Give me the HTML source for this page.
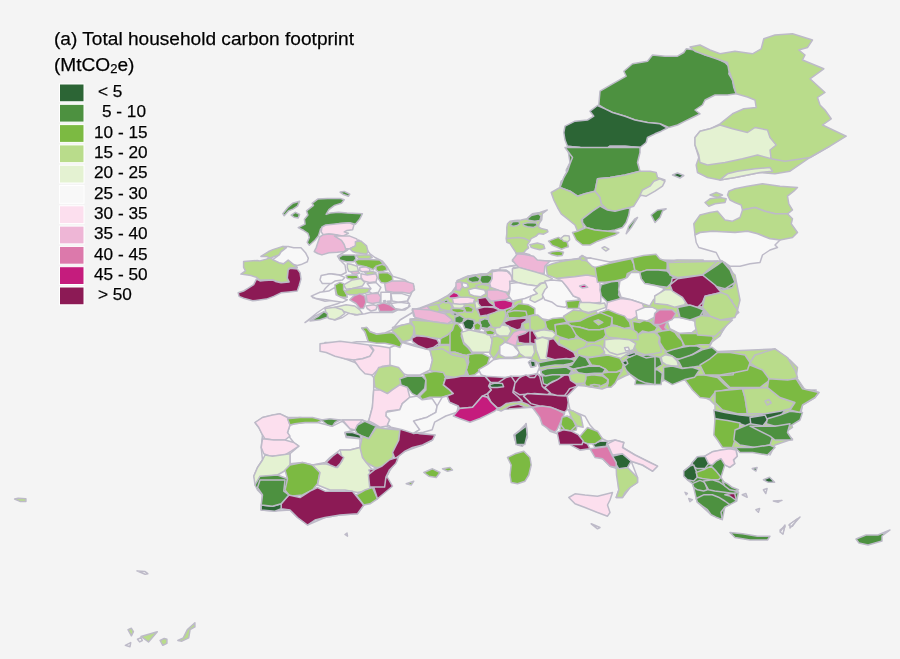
<!DOCTYPE html>
<html><head><meta charset="utf-8"><style>
html,body{margin:0;padding:0;}
body{width:900px;height:659px;background:#f4f4f4;position:relative;overflow:hidden;font-family:"Liberation Sans",sans-serif;color:#111;}
svg{position:absolute;left:0;top:0;}
.t,.lt{will-change:transform;}
.t{position:absolute;left:54px;font-size:19.1px;line-height:22px;white-space:nowrap;text-shadow:0 0 1.5px #fff,0 0 1.5px #fff;-webkit-text-stroke:0.25px #000;color:#000;}
.lt{position:absolute;font-size:17.2px;white-space:nowrap;line-height:19px;text-shadow:0 0 1.5px #fff,0 0 1.5px #fff;-webkit-text-stroke:0.25px #000;color:#000;}
</style></head><body>
<svg width="900" height="659" viewBox="0 0 900 659">
<g stroke="#bdbac8" stroke-width="1.5" stroke-linejoin="round">
<polygon points="598.8,105.0 600.0,91.2 612.5,83.8 626.2,76.2 623.8,71.2 632.5,63.8 647.5,61.2 652.5,55.0 665.0,56.2 677.5,56.2 683.8,52.5 686.2,48.8 695.0,50.0 705.0,55.0 715.0,57.5 725.0,62.5 730.0,67.5 728.8,73.8 732.5,80.0 733.8,87.5 736.2,93.8 727.5,95.0 715.0,95.0 705.0,100.0 702.5,105.0 695.0,110.0 700.0,113.8 692.5,117.5 685.0,121.2 677.5,125.0 668.8,127.5 660.0,123.8 647.5,122.5 635.0,120.0 625.0,116.2 612.5,112.5 605.0,108.8" fill="#4d9140"/>
<polygon points="597.5,105.5 590.0,111.2 593.8,116.2 587.5,120.0 575.0,121.2 565.0,126.2 563.8,132.5 565.0,140.0 567.5,146.2 580.0,147.5 583.8,153.8 595.0,152.5 605.0,150.0 610.0,146.2 625.0,146.2 640.0,147.5 646.2,142.5 647.5,137.5 655.0,133.8 661.2,131.2 667.5,128.0 660.0,123.8 647.5,122.5 635.0,120.0 625.0,116.2 612.5,112.5 605.0,108.8" fill="#2c6535"/>
<polygon points="567.5,146.2 568.8,155.0 570.0,162.5 566.2,170.0 567.5,177.5 561.2,181.2 560.0,186.2 567.5,170.0 638.8,170.0 637.5,171.2 638.8,167.5 636.2,160.0 637.5,152.5 640.0,147.5 625.0,146.2 610.0,146.2 605.0,150.0 595.0,152.5 583.8,153.8 580.0,147.5" fill="#4d9140"/>
<polygon points="690.0,47.0 700.0,45.0 710.0,50.0 720.0,53.8 735.0,51.2 752.5,53.8 761.2,48.8 763.8,38.8 775.0,35.0 792.5,33.8 812.5,40.0 807.5,47.5 798.8,50.0 805.0,55.0 802.5,60.0 823.8,68.8 810.0,78.8 825.0,92.5 817.5,97.5 820.0,105.0 825.0,110.0 831.2,118.8 822.5,125.0 846.2,136.2 830.0,146.2 810.0,157.5 790.0,171.2 775.0,173.8 760.0,172.5 747.5,175.0 735.0,177.5 720.0,180.0 707.5,177.5 697.5,172.5 696.2,165.0 698.8,157.5 695.0,145.0 695.0,137.5 700.0,131.2 710.0,128.8 720.0,123.8 732.5,113.8 743.8,108.8 756.2,107.5 755.0,100.0 747.5,97.0 736.2,93.8 732.5,80.0 728.8,70.0 727.5,62.5 712.5,57.5 695.0,51.2" fill="#b9dc8b"/>
<polygon points="695.0,137.5 700.0,131.2 710.0,128.8 720.0,125.0 732.5,128.8 747.5,132.5 755.0,127.5 767.5,130.0 770.0,137.5 776.2,145.0 770.0,150.0 771.2,158.8 757.5,155.0 742.5,158.8 725.0,162.5 707.5,165.0 700.0,162.5 698.8,155.0 695.0,145.0" fill="#e4f2d2"/>
<polygon points="720.0,180.0 735.0,177.5 747.5,175.0 760.0,172.5 772.5,171.2 770.0,167.5 755.0,168.8 737.5,171.2 727.5,173.8 721.2,178.8" fill="#e4f2d2"/>
<polyline points="771.2,158.8 785.0,161.2 810.0,157.5 830.0,146.2" fill="none"/>
<polygon points="565.0,147.5 572.5,157.5 570.0,163.8 567.5,171.2 563.8,177.5 560.0,187.5 570.0,191.2 577.5,196.2 585.0,193.8 595.0,191.2 597.5,178.8 610.0,177.5 625.0,175.0 640.0,171.2 637.5,162.5 640.0,152.5 640.0,147.5" fill="#4d9140"/>
<polygon points="597.5,178.8 595.0,191.2 600.0,197.5 601.2,203.8 607.5,210.0 615.0,211.2 625.0,208.8 633.8,206.2 640.0,196.2 650.0,191.2 660.0,185.0 665.0,180.0 657.5,177.5 656.2,172.5 650.0,171.2 640.0,171.2 625.0,175.0 610.0,177.5" fill="#b9dc8b"/>
<polygon points="640.0,195.0 646.2,196.2 655.0,191.2 662.5,186.2 665.0,181.2 660.0,178.8 653.8,181.2 650.0,186.2 642.5,190.0" fill="#e4f2d2"/>
<polygon points="551.2,192.5 553.8,200.0 557.5,207.5 561.2,213.8 567.5,218.8 575.0,225.0 577.5,231.2 583.8,227.5 581.2,220.0 592.5,211.2 600.0,206.2 607.5,210.0 601.2,203.8 600.0,197.5 595.0,191.2 585.0,193.8 577.5,196.2 570.0,191.2 560.0,187.5" fill="#b9dc8b"/>
<polygon points="582.5,218.8 592.5,211.2 600.0,206.2 607.5,210.0 615.0,211.2 625.0,208.8 630.0,207.5 628.8,215.0 626.2,222.5 622.5,227.5 615.0,230.0 607.5,231.2 595.0,230.0 586.2,227.5 582.5,222.5" fill="#4d9140"/>
<polygon points="572.5,232.5 576.2,240.0 582.5,245.0 590.0,245.0 597.5,241.2 607.5,237.5 615.0,235.0 618.8,232.5 607.5,231.2 595.0,230.0 586.2,227.5 577.5,231.2" fill="#7cba42"/>
<polygon points="626.2,233.8 631.2,227.5 637.5,217.5 635.0,218.8 628.8,226.2" fill="#4d9140"/>
<polygon points="651.2,215.0 655.0,222.5 660.0,217.5 662.5,211.2 666.2,208.8 657.5,210.0" fill="#4d9140"/>
<polygon points="672.5,175.0 677.5,173.0 683.8,175.5 680.0,178.0" fill="#2c6535"/>
<polygon points="506.8,227.4 507.5,223.7 510.0,221.2 514.9,220.6 521.2,219.9 526.8,218.7 532.4,213.7 539.8,212.5 547.3,210.0 542.3,213.7 541.7,219.9 539.2,223.7 538.6,226.8 541.1,228.6 547.3,229.9 547.9,231.8 543.6,234.2 538.6,233.6 536.1,236.1 531.1,238.6 529.9,241.1 527.4,244.8 528.6,247.9 526.1,249.8 523.6,252.9 516.2,253.5 514.9,251.0 512.4,247.3 510.0,243.6 506.8,242.3 506.2,238.6 506.8,233.6" fill="#b9dc8b"/>
<polygon points="510.0,225.5 512.4,221.8 518.7,221.2 519.9,223.7 517.4,225.5 513.7,226.2" fill="#4d9140"/>
<polygon points="523.0,223.7 528.6,222.4 536.1,223.0 537.3,225.5 533.6,227.4 527.4,226.8 523.6,225.5" fill="#4d9140"/>
<polygon points="526.8,219.3 531.1,215.6 538.6,213.7 541.1,216.2 539.8,220.6 534.8,221.2 529.9,220.6" fill="#4d9140"/>
<polyline points="506.8,238.6 512.4,238.0 518.7,237.4 524.9,238.6 529.9,241.1" fill="none"/>
<polygon points="529.9,244.8 537.3,243.0 543.6,244.8 544.8,248.6 539.8,249.8 534.8,248.6 531.1,247.3" fill="#b9dc8b"/>
<polygon points="548.5,241.1 554.8,238.6 558.5,237.4 561.0,239.2 563.5,236.1 567.8,236.7 567.2,242.3 568.4,246.7 564.7,247.9 561.6,249.2 557.2,247.3 552.3,245.4" fill="#7cba42"/>
<polygon points="561.0,238.0 564.7,235.5 569.1,236.1 569.7,239.8 567.8,241.7 563.5,241.1" fill="#e4f2d2"/>
<polygon points="548.5,252.9 552.3,251.7 558.5,251.0 563.5,252.3 562.2,255.4 557.2,256.0 552.3,254.8" fill="#7cba42"/>
<polygon points="602.0,247.9 604.5,246.7 608.9,249.2 605.8,251.0" fill="#e4f2d2"/>
<polygon points="512.4,261.0 517.4,257.3 516.2,253.5 523.6,252.9 529.9,254.8 532.4,258.5 537.3,260.4 544.8,261.0 550.4,261.0 547.3,264.7 546.7,269.7 542.3,273.4 536.1,272.2 531.1,269.7 528.6,268.5 522.4,268.5 517.4,266.0 516.2,263.5" fill="#eeb6d6"/>
<polygon points="546.0,267.2 552.3,263.5 559.7,262.2 567.2,259.8 574.7,259.8 580.9,259.8 582.1,257.3 585.9,257.3 587.1,261.0 589.6,263.5 595.8,264.7 600.8,267.2 599.6,272.2 597.1,275.9 587.1,275.9 574.7,275.9 566.0,277.2 557.2,277.2 549.8,274.7 546.0,272.2" fill="#b9dc8b"/>
<polygon points="579.6,257.3 582.1,255.4 585.9,257.9 583.4,259.8" fill="#b9dc8b"/>
<polygon points="728.8,191.2 735.0,188.8 747.5,186.2 762.5,183.8 780.0,186.2 797.5,187.5 793.8,191.2 787.5,196.2 788.8,203.8 792.5,210.0 787.5,213.8 775.0,213.8 765.0,211.2 755.0,207.5 742.5,210.0 741.2,205.0 735.0,202.5 730.0,200.0 727.5,195.0" fill="#b9dc8b"/>
<polygon points="705.0,202.5 710.0,198.8 720.0,197.5 726.2,198.8 725.0,202.5 715.0,203.8 708.8,206.2" fill="#b9dc8b"/>
<polygon points="710.0,195.0 716.2,192.5 722.5,195.0 717.5,197.5" fill="#b9dc8b"/>
<polygon points="693.8,223.8 700.0,215.0 710.0,212.5 717.5,211.2 725.0,220.0 732.5,221.2 740.0,217.5 742.5,210.0 755.0,207.5 765.0,211.2 775.0,213.8 787.5,213.8 792.5,218.8 791.2,223.8 797.5,232.5 792.5,237.5 780.0,240.0 770.0,238.8 757.5,233.8 747.5,231.2 735.0,232.5 712.5,231.2 700.0,232.5 695.0,235.0" fill="#b9dc8b"/>
<polygon points="695.0,235.0 700.0,232.5 712.5,231.2 735.0,232.5 747.5,231.2 757.5,233.8 770.0,238.8 780.0,240.0 775.0,245.0 777.5,247.5 770.0,250.0 762.5,255.0 760.0,262.5 750.0,263.8 740.0,266.2 730.0,266.2 720.0,260.0 716.2,252.5 707.5,250.0 698.8,247.5 696.2,242.5" fill="#f8f8f8"/>
<polygon points="660.0,260.0 717.5,261.2 716.2,268.8 703.8,276.2 690.0,277.5 660.0,277.5" fill="#b9dc8b"/>
<polygon points="717.5,261.2 725.0,262.5 730.0,267.5 733.8,275.0 735.0,285.0 725.0,288.8 715.0,283.8 703.8,276.2 716.2,268.8" fill="#4d9140"/>
<polygon points="660.0,277.5 690.0,277.5 703.8,276.2 715.0,283.8 721.2,291.2 707.5,293.8 702.5,300.0 703.8,306.2 695.0,306.2 685.0,300.0 660.0,295.0" fill="#8c1a55"/>
<polygon points="703.8,306.2 702.5,300.0 707.5,293.8 721.2,291.2 728.8,292.5 731.2,302.5 738.8,312.5 730.0,320.0 715.0,318.8 705.0,312.5" fill="#b9dc8b"/>
<polygon points="676.2,310.0 685.0,306.2 695.0,306.2 703.8,310.0 700.0,315.0 690.0,318.8 680.0,315.0" fill="#4d9140"/>
<polygon points="696.2,325.0 705.0,313.8 715.0,318.8 730.0,320.0 720.0,335.0 700.0,335.0" fill="#b9dc8b"/>
<polygon points="337.5,256.2 347.5,250.0 353.8,242.5 358.8,240.0 365.0,247.5 370.0,253.8 375.0,257.5 382.5,261.2 387.5,267.5 392.5,276.2 405.0,280.0 413.8,286.2 411.2,293.8 407.5,301.2 410.0,306.2 405.0,310.0 397.5,310.0 392.5,312.5 380.0,312.5 370.0,312.5 365.0,313.8 355.0,315.0 350.0,312.5 342.5,317.5 335.0,320.0 327.5,317.5 322.5,312.5 315.0,316.2 305.0,322.5 317.5,312.5 325.0,307.5 337.5,303.8 345.0,300.0 335.0,300.0 325.0,301.2 312.5,297.5 322.5,292.5 325.0,288.8 330.0,283.8 322.5,281.2 322.5,276.2 330.0,273.8 341.2,275.0 346.2,272.5 345.0,265.0 340.0,260.0" fill="#f8f8f8"/>
<polygon points="306.5,210.9 313.5,205.4 312.1,203.3 317.7,199.1 327.5,198.4 340.1,198.4 344.2,199.8 341.5,203.3 334.5,205.4 328.9,209.6 326.1,214.4 330.3,213.0 338.7,212.3 347.0,213.0 362.4,213.7 359.6,219.3 355.4,224.2 349.8,222.8 340.1,223.5 333.1,224.9 324.7,225.6 320.5,229.1 318.4,236.1 314.9,240.3 309.3,245.2 307.2,242.4 309.3,237.5 307.9,233.3 303.7,230.5 298.2,227.7 305.1,224.2 304.4,219.3 307.9,215.1" fill="#4d9140"/>
<polygon points="340.1,192.1 344.2,191.4 349.8,194.2 348.4,196.3 342.8,194.2" fill="#4d9140"/>
<polygon points="282.8,213.7 288.4,206.8 292.6,203.3 299.6,201.2 297.5,206.1 293.3,208.9 288.4,210.9 284.2,215.8" fill="#4d9140"/>
<polygon points="291.2,215.1 295.4,212.3 299.6,214.4 298.2,217.9 294.0,217.2" fill="#4d9140"/>
<polygon points="321.9,227.0 326.1,224.9 340.1,223.5 349.8,222.8 354.0,224.9 352.6,229.8 347.0,230.5 344.2,231.9 348.4,233.3 342.8,236.1 335.9,234.7 328.9,234.0 323.3,234.7 321.2,231.9" fill="#fcdfee"/>
<polygon points="314.2,251.5 316.3,247.3 317.7,243.1 319.8,236.8 323.3,234.7 328.9,234.0 335.9,234.7 341.5,236.8 345.6,244.5 347.0,248.7 344.2,251.5 337.3,252.2 328.9,252.8 321.9,254.9 317.7,253.5" fill="#eeb6d6"/>
<polygon points="334.5,236.1 342.8,236.1 349.8,236.1 356.8,238.9 358.2,243.8 355.4,245.9 349.8,248.7 345.6,248.7 344.2,244.5 341.5,240.3" fill="#fcdfee"/>
<polygon points="355.4,241.7 361.0,241.0 366.6,245.9 368.0,251.5 366.6,254.2 362.4,253.5 356.1,252.8 352.6,251.5 349.8,248.7 355.4,245.9" fill="#b9dc8b"/>
<polygon points="243.6,261.4 257.3,260.5 260.0,260.9 266.4,259.1 270.0,257.7 272.8,259.6 279.1,262.7 283.7,263.7 288.2,260.0 293.7,264.6 297.3,267.3 289.1,268.2 288.2,270.0 287.3,278.2 289.1,281.9 281.0,282.8 275.5,280.9 272.8,280.0 269.1,280.0 260.0,280.0 256.4,277.3 250.9,275.5 240.9,274.1 245.5,270.9 243.6,267.3" fill="#b9dc8b"/>
<polygon points="260.9,256.4 268.2,251.8 272.8,249.6 282.8,246.4 286.4,247.7 281.0,251.8 279.1,255.0 273.7,256.8 270.0,258.2 266.4,256.4" fill="#b9dc8b"/>
<polygon points="238.2,292.8 243.6,291.0 248.2,288.2 253.7,284.6 256.4,279.1 260.0,280.9 264.6,280.5 272.8,280.0 275.5,281.4 281.0,282.8 289.1,281.9 287.3,278.2 288.2,270.0 290.1,268.2 297.3,269.1 300.1,272.8 301.0,279.1 299.2,285.5 297.3,291.0 289.1,291.9 281.0,292.8 273.7,296.4 266.4,299.1 252.7,300.8 243.6,298.2 239.1,296.4" fill="#8c1a55"/>
<polygon points="282.8,246.4 288.2,246.4 293.7,247.7 301.0,247.7 305.5,252.7 308.3,258.2 307.3,261.8 301.0,264.6 297.3,265.5 293.7,264.6 288.2,260.0 283.7,263.7 279.1,262.7 272.8,259.6 279.1,255.0 281.0,251.8 286.4,247.7" fill="#f8f8f8"/>
<polygon points="338.6,257.5 342.4,255.0 354.8,255.0 356.0,258.7 353.6,261.8 346.1,261.8 339.9,260.0" fill="#4d9140"/>
<polygon points="356.0,255.0 369.7,255.0 372.2,257.5 368.5,258.7 358.5,258.7" fill="#b9dc8b"/>
<polygon points="354.8,261.2 358.5,259.4 368.5,259.4 379.7,260.0 383.4,263.7 379.7,266.2 374.7,267.4 373.5,269.9 371.0,268.7 363.5,266.2 357.3,265.0" fill="#7cba42"/>
<polygon points="376.0,266.2 382.2,264.3 385.9,266.2 387.2,269.9 383.4,271.2 378.4,271.8 376.0,269.9" fill="#7cba42"/>
<polygon points="347.3,263.7 351.1,264.3 357.3,266.2 358.5,271.2 353.6,272.4 348.6,271.2 347.3,267.4" fill="#e4f2d2"/>
<polygon points="351.1,271.8 357.3,271.2 359.8,273.0 356.0,274.3 352.3,273.7" fill="#eeb6d6"/>
<polygon points="359.8,267.4 366.0,266.8 369.7,268.7 369.7,271.2 362.3,271.8 359.8,270.6" fill="#fcdfee"/>
<polygon points="364.8,272.4 371.0,271.2 376.0,272.4 374.7,274.9 367.2,274.9" fill="#b9dc8b"/>
<polygon points="346.1,275.5 352.3,274.9 357.3,275.5 358.5,278.6 352.3,279.3 347.3,278.6" fill="#7cba42"/>
<polygon points="361.0,273.7 367.2,274.9 376.0,273.7 377.2,277.4 376.0,281.8 369.7,282.4 363.5,281.1 361.0,277.4" fill="#fcdfee"/>
<polygon points="378.4,273.0 387.2,272.4 392.1,275.5 392.8,279.9 387.2,283.6 380.9,282.4 378.4,278.6" fill="#7cba42"/>
<polygon points="384.7,283.6 392.1,281.1 404.6,281.1 413.3,283.6 414.5,289.8 409.6,293.6 402.1,292.3 393.4,292.3 385.9,291.1" fill="#eeb6d6"/>
<polygon points="343.6,284.9 352.3,279.9 361.0,278.6 364.8,282.4 362.3,286.1 352.3,288.6 346.1,289.2" fill="#e4f2d2"/>
<polygon points="334.9,284.9 339.9,282.4 343.6,283.6 343.6,289.8 346.1,292.3 347.3,297.3 342.4,297.3 337.4,296.1 336.1,292.3" fill="#7cba42"/>
<polygon points="321.2,275.5 329.9,273.7 338.6,274.9 344.8,277.4 342.4,279.9 334.9,281.1 331.2,283.6 322.4,283.6 320.0,279.9" fill="#f8f8f8"/>
<polygon points="311.2,296.1 320.0,292.3 328.7,291.1 334.9,287.4 336.1,294.8 341.1,297.3 347.3,299.8 342.4,302.3 333.6,301.0 326.2,299.8 316.2,298.6" fill="#f8f8f8"/>
<polygon points="344.8,291.1 352.3,288.6 362.3,288.0 369.7,288.6 371.0,291.1 364.8,293.6 357.3,294.8 349.8,294.8 346.1,293.6" fill="#b9dc8b"/>
<polygon points="367.2,283.6 376.0,282.4 380.9,287.4 378.4,292.3 372.2,293.6 368.5,291.1 371.0,288.6" fill="#f8f8f8"/>
<polygon points="349.8,299.8 353.6,296.1 359.8,293.6 364.8,296.1 366.0,302.3 363.5,308.5 359.8,308.5 356.0,303.5" fill="#dc79ab"/>
<polygon points="366.0,294.8 372.2,293.6 378.4,293.6 380.9,297.3 379.7,302.3 372.2,303.5 367.2,302.3" fill="#eeb6d6"/>
<polygon points="380.9,292.3 390.9,292.3 390.9,303.5 380.9,303.5" fill="#f8f8f8"/>
<polygon points="383.4,301.0 385.3,300.4 385.9,302.0 384.0,302.3" fill="#8c1a55"/>
<polygon points="387.2,301.3 390.9,301.0 390.3,302.5 387.8,302.5" fill="#8c1a55"/>
<polygon points="390.9,293.6 402.1,293.6 409.6,296.1 407.1,301.0 398.4,302.3 392.1,301.0" fill="#f8f8f8"/>
<polygon points="390.9,303.5 399.6,302.3 409.6,303.5 408.3,307.3 402.1,309.8 394.6,308.5" fill="#f8f8f8"/>
<polygon points="377.2,304.8 383.4,302.9 389.6,304.8 397.1,309.8 390.9,311.6 379.7,311.6" fill="#dc79ab"/>
<polygon points="366.0,306.0 373.5,304.8 377.2,306.0 376.0,309.8 371.0,311.0 367.2,308.5" fill="#fcdfee"/>
<polygon points="334.9,307.3 346.1,304.8 354.8,306.0 359.8,309.8 362.3,313.5 357.3,314.7 349.8,313.5 342.4,311.0" fill="#e4f2d2"/>
<polygon points="324.9,308.5 334.9,307.3 342.4,309.8 344.8,313.5 339.9,317.2 334.9,319.7 328.7,318.5 326.2,313.5" fill="#e4f2d2"/>
<polygon points="310.0,321.0 318.7,316.0 323.7,311.6 327.4,313.5 327.4,317.2 320.0,319.7" fill="#4d9140"/>
<polygon points="412.5,312.5 400.0,320.0 391.7,330.0 385.0,333.0 376.7,334.0 370.0,331.7 366.7,327.5 361.7,328.0 365.0,331.7 366.7,336.7 368.3,341.7 356.7,341.7 350.0,343.0 325.0,342.5 322.5,350.0 337.5,356.0 355.0,362.5 368.0,371.0 373.7,377.4 373.7,390.0 372.4,407.3 368.7,421.0 357.5,424.0 380.0,425.0 400.0,430.0 420.0,435.0 430.0,427.5 437.5,417.5 450.0,411.0 470.0,415.0 487.5,412.5 495.0,400.0 490.0,385.0 485.0,375.0 480.0,365.0 490.0,357.5 500.0,350.0 495.0,340.0 485.0,330.0 470.0,320.0 450.0,312.5 430.0,307.5" fill="#f8f8f8"/>
<polygon points="412.0,310.0 420.0,308.0 428.0,305.0 438.0,301.0 447.0,296.0 452.0,292.0 457.0,285.0 457.0,281.0 463.0,278.0 468.0,276.0 475.0,275.0 481.0,274.0 487.0,274.0 492.0,270.0 497.0,270.0 510.0,266.0 540.0,262.0 552.0,263.0 560.0,261.0 570.0,260.0 581.0,258.0 590.0,258.0 600.0,262.0 610.0,262.0 632.0,258.0 650.0,260.0 670.0,262.0 700.0,263.0 720.0,261.0 735.0,275.0 740.0,300.0 737.0,312.0 725.0,325.0 720.0,336.0 712.0,342.0 707.0,352.0 752.0,350.0 775.0,349.0 790.0,360.0 797.5,367.5 796.0,379.0 802.5,389.0 819.0,392.5 815.0,397.5 802.5,405.0 801.0,412.5 790.0,420.0 792.5,427.5 785.0,432.5 792.5,439.0 775.0,445.0 770.0,455.0 770.0,452.0 745.0,450.0 722.0,446.0 717.0,437.0 715.0,427.0 720.0,420.0 715.0,412.0 715.0,405.0 710.0,400.0 700.0,395.0 695.0,385.0 687.0,380.0 665.0,380.0 655.0,384.0 645.0,382.0 635.0,379.0 630.0,374.0 625.0,376.0 617.0,380.0 610.0,386.0 602.0,389.0 585.0,386.0 572.0,385.0 567.0,392.0 545.0,372.0 520.0,372.0 495.0,385.0 485.0,375.0 500.0,350.0 485.0,330.0 450.0,312.0" fill="#b9dc8b"/>
<polygon points="692.4,462.4 697.4,456.8 704.9,456.2 712.3,451.8 729.8,448.7 736.0,450.0 737.2,456.2 733.5,459.9 734.7,463.6 729.8,467.4 724.8,464.9 721.0,477.3 727.3,487.3 738.5,492.3 736.6,501.0 729.8,504.7 724.8,507.2 722.3,519.6 711.1,514.7 697.4,502.2 696.2,498.5 693.7,487.3 692.4,483.6 687.4,479.8 683.7,471.1 689.9,466.1" fill="#4d9140"/>
<polygon points="500.0,268.0 540.0,262.0 590.0,258.0 610.0,262.0 612.0,300.0 600.0,320.0 560.0,322.0 520.0,318.0 500.0,305.0" fill="#f8f8f8"/>
<polygon points="320.0,343.8 330.0,342.5 340.0,341.2 350.0,342.5 360.0,343.8 368.8,345.0 373.8,351.2 370.0,356.2 362.5,358.8 353.8,360.0 345.0,358.8 335.0,356.2 326.2,352.5 320.0,351.2" fill="#fcdfee"/>
<polygon points="353.8,360.0 362.5,358.8 370.0,356.2 373.8,350.0 370.0,345.0 380.0,346.2 395.0,348.8 400.0,353.8 402.5,357.5 397.5,362.5 392.5,365.0 382.5,366.2 377.5,370.0 372.5,375.0 365.0,373.8 360.0,368.8" fill="#fcdfee"/>
<polygon points="392.5,340.0 405.0,342.5 415.0,345.0 427.5,347.5 430.0,355.0 432.5,362.5 427.5,370.0 420.0,375.0 410.0,376.2 402.5,372.5 397.5,363.8 402.5,357.5 400.0,352.5" fill="#f8f8f8"/>
<polygon points="432.5,347.5 442.5,345.0 460.0,346.2 460.0,377.5 447.5,378.8 440.0,371.2 430.0,370.0 432.5,362.5" fill="#b9dc8b"/>
<polygon points="255.0,422.5 262.5,417.5 280.0,413.8 287.5,417.5 300.0,417.5 322.5,420.0 342.5,420.0 362.5,420.0 376.2,426.2 385.0,428.8 400.0,430.0 420.0,433.8 435.0,435.0 432.5,440.0 422.5,445.0 405.0,451.2 395.0,458.8 390.0,470.0 385.0,480.0 386.2,487.5 380.0,495.0 375.0,496.2 363.8,505.0 357.5,513.8 340.0,515.0 325.0,517.5 307.5,525.0 297.5,517.5 290.0,510.0 275.0,511.0 261.0,510.0 262.5,495.0 257.5,487.5 253.8,476.2 257.5,467.5 262.5,460.0 261.2,447.5 262.5,435.0 258.8,427.5" fill="#f8f8f8"/>
<polygon points="290.0,425.0 295.0,423.8 305.0,422.5 317.5,422.5 327.5,425.0 332.5,426.2 342.5,421.2 350.0,428.8 355.0,430.0 345.0,432.5 346.2,437.5 360.0,438.8 360.0,447.5 350.0,450.0 340.0,450.0 330.0,457.5 325.0,462.5 312.5,465.0 302.5,462.5 290.0,463.8 290.0,453.8 298.8,446.2 293.8,442.5 288.8,436.2 287.5,432.5" fill="#f8f8f8"/>
<polygon points="255.0,422.5 262.5,417.5 272.5,415.0 280.0,413.8 287.5,417.5 290.0,425.0 287.5,432.5 290.0,436.2 285.0,440.0 273.8,440.0 265.0,438.8 262.5,435.0 258.8,427.5" fill="#fcdfee"/>
<polygon points="262.5,438.8 273.8,440.0 285.0,440.0 293.8,442.5 298.8,446.2 291.2,451.2 285.0,455.0 270.0,456.2 263.8,453.8 261.2,447.5" fill="#fcdfee"/>
<polygon points="265.0,455.0 272.5,456.2 290.0,453.8 290.0,465.0 286.2,470.0 277.5,475.0 267.5,476.2 260.0,477.5 255.0,485.0 253.8,476.2 257.5,467.5 262.5,460.0" fill="#e4f2d2"/>
<polygon points="260.0,476.2 277.5,475.0 287.5,478.8 286.2,490.0 282.5,500.0 265.0,505.0 262.5,495.0 257.5,490.0 255.0,485.0" fill="#4d9140"/>
<polygon points="287.5,418.8 300.0,417.5 312.5,417.5 322.5,420.0 317.5,422.5 305.0,422.5 295.0,423.8 290.0,425.0" fill="#7cba42"/>
<polygon points="321.2,420.0 330.0,418.8 340.0,420.0 335.0,422.5 332.5,426.2 327.5,425.0" fill="#4d9140"/>
<polygon points="342.5,420.0 352.5,420.0 362.5,420.0 357.5,425.0 355.0,430.0 350.0,428.8" fill="#fcdfee"/>
<polygon points="357.5,425.0 365.0,421.2 376.2,426.2 372.5,432.5 368.8,438.8 362.5,436.2 357.5,433.8 355.0,430.0" fill="#4d9140"/>
<polygon points="345.0,432.5 352.5,432.5 360.0,435.0 361.2,438.8 355.0,437.5 346.2,436.2" fill="#2c6535"/>
<polygon points="362.5,436.2 368.8,438.8 376.2,427.5 385.0,428.8 400.0,430.0 398.8,440.0 395.0,450.0 392.5,457.5 382.5,467.5 375.0,467.5 366.2,462.5 361.2,456.2 360.0,447.5" fill="#b9dc8b"/>
<polygon points="400.0,428.8 410.0,431.2 420.0,433.8 435.0,435.0 432.5,440.0 422.5,445.0 412.5,447.5 405.0,451.2 400.0,455.0 395.0,458.8 392.5,452.5 398.8,440.0" fill="#8c1a55"/>
<polygon points="285.0,470.0 290.0,465.0 302.5,462.5 312.5,465.0 320.0,472.5 317.5,483.8 312.5,490.0 302.5,495.0 290.0,496.2 285.0,490.0 287.5,478.8" fill="#7cba42"/>
<polygon points="312.5,465.0 325.0,463.8 330.0,465.0 337.5,467.5 342.5,460.0 340.0,450.0 350.0,450.0 360.0,447.5 362.5,457.5 366.2,462.5 372.5,470.0 372.5,477.5 375.0,485.0 370.0,490.0 357.5,492.5 345.0,490.0 330.0,490.0 317.5,485.0 320.0,472.5" fill="#e4f2d2"/>
<polygon points="326.2,462.5 332.5,456.2 337.5,452.5 343.8,457.5 340.0,463.8 336.2,467.5 330.0,465.0" fill="#8c1a55"/>
<polygon points="368.8,470.0 382.5,467.5 392.5,458.8 397.5,460.0 390.0,470.0 385.0,480.0 386.2,487.5 380.0,495.0 375.0,496.2 372.5,487.5 372.5,477.5" fill="#8c1a55"/>
<polygon points="423.8,472.5 432.5,468.8 440.0,472.5 436.2,477.5 428.8,476.2" fill="#7cba42"/>
<polygon points="442.5,468.8 450.0,467.5 452.5,470.0 447.5,471.2" fill="#7cba42"/>
<polygon points="406.2,483.8 413.8,481.2 411.2,485.0" fill="#7cba42"/>
<polygon points="281.2,503.8 288.8,495.0 300.0,497.5 310.0,491.2 317.5,487.5 325.0,491.2 337.5,491.2 352.5,491.2 357.5,497.5 363.8,505.0 357.5,513.8 340.0,515.0 325.0,517.5 315.0,520.0 307.5,525.0 297.5,517.5 290.0,510.0 281.2,508.8" fill="#8c1a55"/>
<polygon points="261.2,505.0 272.5,506.2 281.2,503.8 281.2,508.8 275.0,511.2 261.2,510.0" fill="#2c6535"/>
<polygon points="260.0,480.0 285.0,480.0 283.8,491.2 288.8,495.0 281.2,503.8 272.5,506.2 261.2,505.0 262.5,495.0 257.5,487.5" fill="#4d9140"/>
<polygon points="356.2,495.0 365.0,490.0 372.5,487.5 377.5,498.8 370.0,503.8 363.8,505.0" fill="#7cba42"/>
<polygon points="372.5,477.5 387.5,477.5 392.5,486.2 385.0,492.5 377.5,498.8 373.8,487.5" fill="#8c1a55"/>
<polygon points="345.0,534.5 347.0,533.0 347.5,536.2" fill="#f8f8f8"/>
<polygon points="393.3,458.5 398.3,457.2 395.8,463.5 389.6,469.7 385.9,477.2 384.6,487.1 369.7,487.1 368.4,474.7 374.7,469.7 382.1,466.0 389.6,459.7" fill="#8c1a55"/>
<polygon points="412.5,311.0 420.0,308.5 427.4,306.0 429.9,309.8 432.4,312.3 438.6,313.5 442.4,317.2 448.6,319.7 449.8,322.2 443.6,322.8 434.9,321.0 426.2,318.5 417.5,317.9 413.7,316.0" fill="#eeb6d6"/>
<polygon points="410.0,319.1 417.5,318.5 426.2,319.1 434.9,321.6 444.8,323.5 449.8,322.8 451.1,327.2 447.3,332.2 441.1,334.7 432.4,337.2 422.4,337.2 415.0,335.9 410.0,334.7" fill="#b9dc8b"/>
<polygon points="441.1,334.7 447.3,332.2 453.6,326.0 459.8,326.0 462.3,332.2 462.3,344.6 439.9,344.6" fill="#7cba42"/>
<polygon points="461.0,332.2 472.2,330.9 484.7,332.2 497.1,333.4 497.1,344.6 461.0,344.6" fill="#e4f2d2"/>
<polygon points="427.4,306.0 437.4,304.2 439.9,308.5 438.6,312.3 432.4,312.3 429.9,309.8" fill="#b9dc8b"/>
<polygon points="438.6,304.8 443.6,301.7 449.8,302.9 452.3,307.3 449.8,311.0 442.4,309.8 439.9,308.5" fill="#b9dc8b"/>
<polygon points="451.1,302.9 459.8,301.1 463.5,302.9 464.8,307.3 459.8,308.5 453.6,307.9" fill="#e4f2d2"/>
<polygon points="463.5,306.7 468.5,306.0 473.5,308.5 472.2,312.3 466.0,312.3 464.8,309.8" fill="#7cba42"/>
<polygon points="451.1,308.5 459.8,308.5 464.8,309.8 463.5,312.3 457.3,312.9 452.3,311.6" fill="#7cba42"/>
<polygon points="437.4,313.5 452.3,312.3 458.5,314.8 462.3,317.2 457.3,319.7 452.3,322.2 448.6,319.7 442.4,317.2" fill="#b9dc8b"/>
<polygon points="451.1,313.5 454.8,312.9 458.5,314.1 454.8,315.4" fill="#2c6535"/>
<polygon points="454.8,317.2 459.8,315.4 464.8,318.5 463.5,322.2 459.8,323.5 454.8,322.2" fill="#4d9140"/>
<polygon points="463.5,319.7 468.5,318.5 474.7,320.4 474.7,326.0 471.0,329.1 466.0,327.2 463.5,323.5" fill="#2c6535"/>
<polygon points="473.5,323.5 478.4,322.2 481.6,326.0 479.7,329.7 474.7,329.7" fill="#7cba42"/>
<polygon points="479.7,319.7 487.2,318.5 492.1,321.0 493.4,326.0 488.4,328.4 483.4,327.2 479.7,324.7" fill="#4d9140"/>
<polygon points="489.6,313.5 497.1,311.0 504.6,312.3 505.8,317.2 504.6,322.2 502.1,327.2 497.1,329.7 494.6,327.2 492.1,321.0 487.2,318.5" fill="#b9dc8b"/>
<polygon points="484.7,330.9 489.6,329.7 494.6,332.2 493.4,334.7 485.9,334.7" fill="#4d9140"/>
<polygon points="438.6,301.1 447.3,296.1 452.3,292.4 457.3,286.8 457.3,280.5 463.5,278.7 468.5,276.2 474.7,274.9 480.9,274.3 487.2,273.7 492.1,271.8 497.1,270.0 505.8,270.0 509.6,272.4 513.3,297.3 497.1,301.1 479.7,299.8 474.7,302.3 468.5,303.6 452.3,303.6 447.3,302.3" fill="#b9dc8b"/>
<polygon points="443.6,301.1 447.3,299.8 448.6,302.3 444.8,302.9" fill="#4d9140"/>
<polygon points="448.6,296.1 453.6,292.4 457.3,293.6 459.8,296.7 454.8,298.0 449.8,298.0" fill="#c51c7d"/>
<polygon points="456.0,282.4 461.0,281.8 462.3,286.8 459.8,290.5 456.0,289.9" fill="#eeb6d6"/>
<polygon points="462.3,282.4 467.2,283.6 468.5,286.8 464.8,288.0 462.3,286.1" fill="#f8f8f8"/>
<polygon points="468.5,277.4 476.0,275.6 480.3,278.7 478.4,281.8 472.2,282.4 467.9,280.5" fill="#4d9140"/>
<polygon points="480.9,275.6 487.2,274.9 492.1,276.2 491.5,280.5 488.4,283.6 482.2,283.6 479.7,280.5" fill="#4d9140"/>
<polygon points="492.1,271.8 499.6,270.6 507.1,271.2 510.8,274.9 513.3,281.2 510.8,287.4 508.3,292.4 500.8,291.1 494.6,288.6 490.9,287.4 489.6,283.6 492.1,278.7" fill="#fcdfee"/>
<polygon points="476.0,285.5 482.2,284.3 489.6,286.1 489.6,291.1 484.7,291.7 478.4,291.1" fill="#b9dc8b"/>
<polygon points="468.5,289.9 474.7,288.0 484.7,289.9 485.9,293.6 480.9,296.7 474.7,296.1 469.7,294.2" fill="#f8f8f8"/>
<polygon points="452.3,298.6 459.8,297.3 468.5,297.3 474.7,298.6 473.5,302.9 468.5,303.6 459.8,304.2 453.6,303.6" fill="#fcdfee"/>
<polygon points="487.2,289.9 497.1,289.9 505.8,292.4 509.6,297.3 504.6,299.8 497.1,301.1 490.9,301.1 487.2,297.3" fill="#eeb6d6"/>
<polygon points="474.7,302.3 479.7,299.8 482.2,307.3 479.7,311.0 476.0,309.8" fill="#e4f2d2"/>
<polygon points="477.8,298.6 485.9,297.3 489.6,302.3 494.6,306.0 487.2,307.3 480.9,306.7 478.4,303.6" fill="#8c1a55"/>
<polygon points="493.4,301.1 504.6,299.8 513.3,302.3 512.0,307.3 507.1,311.0 499.6,309.8 494.6,306.7" fill="#c51c7d"/>
<polygon points="477.2,308.5 484.7,307.3 494.6,307.3 499.6,309.8 494.6,313.5 487.2,316.0 482.2,316.0 477.8,312.3" fill="#8c1a55"/>
<polygon points="504.6,309.8 512.0,307.3 517.0,309.8 522.0,312.3 522.0,317.2 515.8,318.5 507.1,317.2" fill="#7cba42"/>
<polygon points="513.3,302.3 522.0,297.3 522.0,309.8 514.5,308.5" fill="#b9dc8b"/>
<polygon points="505.8,321.0 514.5,318.5 522.0,319.7 522.0,329.7 517.0,329.1 512.0,327.2 508.3,324.7" fill="#8c1a55"/>
<polygon points="513.3,267.5 522.0,267.5 522.0,281.2 512.0,281.2" fill="#b9dc8b"/>
<polygon points="509.6,281.2 522.0,281.2 522.0,297.3 512.0,297.3" fill="#f8f8f8"/>
<polygon points="512.4,260.0 517.4,253.7 524.9,254.4 533.6,256.2 537.3,260.0 549.8,261.2 544.8,266.2 544.2,273.6 537.3,273.0 533.6,271.8 518.7,267.4 516.2,264.9" fill="#eeb6d6"/>
<polygon points="546.0,266.2 552.3,263.7 559.7,261.8 569.7,260.0 580.9,258.7 587.1,261.2 592.1,266.2 598.3,268.7 599.6,273.6 595.8,276.8 584.6,275.5 574.7,276.8 564.7,277.4 557.2,278.6 547.3,274.9" fill="#b9dc8b"/>
<polygon points="579.6,257.5 583.4,256.2 587.1,260.0 582.1,260.6" fill="#b9dc8b"/>
<polygon points="512.4,268.7 518.7,267.4 534.8,271.8 544.8,274.9 552.3,278.6 547.3,281.7 539.8,283.6 537.3,286.1 527.4,284.8 517.4,282.4 512.4,279.9" fill="#e4f2d2"/>
<polygon points="510.0,283.6 517.4,282.4 527.4,284.8 537.3,286.1 537.3,293.6 531.1,296.0 524.9,298.5 518.7,299.8 512.4,301.0 508.7,296.0 510.0,289.8" fill="#f8f8f8"/>
<polygon points="533.6,289.8 541.1,283.6 547.3,282.4 547.3,289.8 543.6,293.6 542.3,298.5 534.8,302.3 529.9,299.8 531.1,296.0 537.3,293.6" fill="#e4f2d2"/>
<polygon points="544.8,281.1 552.3,279.9 562.2,281.1 567.2,287.3 573.4,296.0 579.6,298.5 575.9,302.3 564.7,307.2 557.2,306.0 552.3,302.3 544.8,299.8 542.3,294.8 544.8,289.8 547.3,287.3" fill="#f8f8f8"/>
<polygon points="557.2,278.6 574.7,276.8 587.1,274.9 595.8,276.8 599.6,281.1 600.8,292.3 600.8,302.3 592.1,303.5 582.1,303.5 579.6,298.5 573.4,296.0 567.2,287.3 562.2,281.1" fill="#fcdfee"/>
<polygon points="579.6,286.1 584.6,284.8 587.7,287.3 582.1,288.0" fill="#c51c7d"/>
<polygon points="512.4,308.5 518.7,303.5 528.6,304.8 534.8,308.5 534.8,314.7 527.4,317.2 518.7,316.0 510.0,316.0 507.5,312.2" fill="#7cba42"/>
<polygon points="505.0,322.2 510.0,319.1 518.7,317.8 528.6,318.4 524.9,324.7 518.7,327.2 514.9,329.6 512.4,325.9 507.5,324.7" fill="#8c1a55"/>
<polygon points="528.6,316.0 534.8,314.7 539.8,318.4 547.3,319.7 546.0,325.9 537.3,327.2 529.9,324.7" fill="#b9dc8b"/>
<polygon points="495.0,400.0 490.0,380.0 500.0,370.0 545.0,370.0 575.0,372.0 568.0,386.0 567.0,396.0 570.0,410.0 585.0,416.2 590.0,425.0 602.5,438.8 607.5,441.2 615.0,440.0 623.8,442.5 622.5,447.5 635.0,455.0 657.5,466.2 652.5,471.2 642.5,465.0 631.2,461.2 637.5,477.5 637.5,482.5 630.0,487.5 622.5,497.5 616.2,497.5 618.8,490.0 617.5,468.8 610.0,466.2 602.5,458.8 590.0,448.8 580.0,450.0 565.0,440.0 557.5,433.8 550.0,431.2 542.5,422.5 540.0,415.0 532.5,405.0 522.5,401.2 510.0,402.5 500.0,410.0" fill="#f8f8f8"/>
<polygon points="703.8,273.8 717.5,266.2 722.5,261.2 730.0,270.0 735.0,282.5 732.5,287.5 722.5,290.0 712.5,285.0" fill="#4d9140"/>
<polygon points="600.0,312.5 607.5,310.0 622.5,313.8 630.0,318.8 627.5,327.5 615.0,325.0 605.0,322.5 600.0,322.5" fill="#7cba42"/>
<polygon points="605.0,340.0 627.5,340.0 635.0,345.0 632.5,351.2 627.5,353.8 620.0,358.8 610.0,357.5 602.5,352.5" fill="#e4f2d2"/>
<polygon points="750.0,362.5 755.0,355.0 775.0,348.8 787.5,357.5 795.0,370.0 797.5,377.5 790.0,380.0 775.0,380.0 767.5,380.0 760.0,370.0" fill="#b9dc8b"/>
<polygon points="685.0,380.0 697.5,375.0 705.0,375.0 717.5,377.5 725.0,385.0 730.0,388.8 715.0,392.5 710.0,398.8 700.0,397.5 692.5,390.0" fill="#7cba42"/>
<polygon points="717.5,375.0 735.0,372.5 750.0,365.0 762.5,370.0 770.0,380.0 760.0,387.5 745.0,387.5 730.0,387.5" fill="#7cba42"/>
<polygon points="770.0,380.0 790.0,380.0 797.5,378.8 805.0,390.0 816.2,390.0 812.5,397.5 802.5,400.0 797.5,410.0 790.0,410.0 792.5,402.5 785.0,395.0 775.0,390.0" fill="#7cba42"/>
<polygon points="450.0,324.9 457.5,323.6 462.4,329.9 461.2,336.1 463.7,343.6 468.7,348.5 472.4,353.5 469.9,356.0 462.4,354.8 455.0,352.3 450.0,352.3" fill="#7cba42"/>
<polygon points="461.2,332.4 469.9,329.9 481.1,332.4 489.8,334.8 492.3,339.8 491.1,347.3 489.8,352.3 481.1,352.3 472.4,352.3 468.7,347.3 463.7,342.3" fill="#e4f2d2"/>
<polygon points="491.1,337.3 497.3,336.1 503.5,338.6 504.8,341.1 501.0,347.3 497.3,353.5 493.6,358.5 489.8,353.5 491.1,347.3 492.3,339.8" fill="#b9dc8b"/>
<polygon points="467.4,354.8 474.9,353.5 482.4,353.5 489.8,357.2 487.3,364.7 481.1,369.7 474.9,374.7 468.7,375.9 466.2,369.7 468.7,362.2" fill="#7cba42"/>
<polygon points="450.0,352.3 455.0,352.3 462.4,354.8 468.7,356.0 467.4,362.2 466.2,369.7 467.4,375.9 450.0,375.9" fill="#b9dc8b"/>
<polygon points="478.6,369.7 487.3,364.7 493.6,359.7 499.8,358.5 506.0,358.5 514.7,358.5 524.7,357.2 530.9,358.5 537.1,362.2 539.6,367.2 537.1,373.4 530.9,375.9 524.7,377.2 518.4,379.6 499.8,378.4 487.3,377.2 481.1,374.7" fill="#f8f8f8"/>
<polygon points="528.4,362.2 532.8,359.7 535.9,362.2 535.9,366.0 530.9,367.2" fill="#2c6535"/>
<polygon points="499.8,346.0 504.8,342.3 512.2,343.6 516.0,348.5 519.7,352.3 517.2,356.0 512.2,357.2 504.8,357.2 499.8,354.8" fill="#f8f8f8"/>
<polygon points="506.0,342.3 513.5,332.4 519.7,329.9 525.9,329.9 527.2,332.4 519.7,334.8 517.2,341.1 516.0,346.0 512.2,344.8" fill="#eeb6d6"/>
<polygon points="516.0,346.0 524.7,344.8 533.4,344.8 534.6,352.3 532.1,357.2 524.7,357.2 519.7,353.5" fill="#e4f2d2"/>
<polygon points="517.2,336.1 524.7,333.6 529.6,329.9 532.1,332.4 537.1,337.3 539.6,342.3 534.6,343.6 524.7,343.6 518.4,342.3" fill="#8c1a55"/>
<polygon points="503.5,322.4 509.7,319.9 517.2,318.7 524.7,318.0 527.2,319.9 522.2,323.6 520.9,328.6 517.2,329.9 511.0,327.4 506.0,324.9" fill="#8c1a55"/>
<polygon points="522.2,323.6 530.9,321.2 539.6,318.7 545.8,323.6 544.6,328.6 537.1,329.9 530.9,329.9 524.7,329.9" fill="#b9dc8b"/>
<polygon points="494.8,328.6 502.3,324.9 508.5,326.1 511.0,331.1 508.5,336.1 499.8,336.1 496.0,333.6" fill="#e4f2d2"/>
<polygon points="484.8,331.1 489.8,329.9 494.8,331.7 493.6,334.8 487.3,334.8" fill="#7cba42"/>
<polygon points="479.9,321.2 484.8,318.7 491.1,319.9 492.3,324.9 487.3,328.6 481.1,327.4" fill="#4d9140"/>
<polygon points="462.4,322.4 467.4,318.7 473.6,319.9 474.9,324.9 471.2,329.9 464.9,328.6" fill="#2c6535"/>
<polygon points="473.6,324.9 477.4,322.4 481.1,324.9 479.9,329.9 474.9,329.9" fill="#7cba42"/>
<polygon points="488.6,314.9 494.8,311.2 504.8,310.0 506.0,314.9 503.5,322.4 499.8,327.4 492.3,327.4 488.6,321.2" fill="#b9dc8b"/>
<polygon points="477.4,308.7 484.8,306.8 493.6,307.5 499.8,310.0 494.8,312.4 487.3,314.9 479.9,316.2" fill="#8c1a55"/>
<polygon points="507.2,312.4 514.7,310.6 525.9,311.2 527.2,316.2 519.7,318.0 508.5,317.4" fill="#7cba42"/>
<polygon points="412.5,308.8 430.0,310.0 445.0,313.8 452.5,320.0 447.5,323.8 430.0,321.2 415.0,317.5" fill="#eeb6d6"/>
<polygon points="411.2,320.0 430.0,321.2 447.5,323.8 455.0,322.5 452.5,330.0 447.5,335.0 440.0,338.8 430.0,337.5 415.0,335.0 412.5,327.5" fill="#b9dc8b"/>
<polygon points="392.5,327.5 402.5,325.0 412.5,323.8 415.0,332.5 410.0,340.0 400.0,342.5 395.0,337.5" fill="#b9dc8b"/>
<polygon points="412.5,337.5 422.5,336.2 437.5,340.0 438.8,346.2 430.0,348.8 420.0,348.8 413.8,342.5" fill="#8c1a55"/>
<polygon points="390.0,347.5 402.5,342.5 415.0,346.2 430.0,350.0 432.5,360.0 430.0,370.0 420.0,375.0 407.5,375.0 397.5,372.5 390.0,365.0" fill="#f8f8f8"/>
<polygon points="430.0,350.0 442.5,348.8 452.5,355.0 465.0,357.5 467.5,365.0 465.0,375.0 455.0,377.5 440.0,375.0 430.0,370.0 432.5,360.0" fill="#b9dc8b"/>
<polygon points="361.7,328.3 366.7,327.5 370.0,331.7 376.7,334.2 385.0,333.3 391.7,332.5 395.0,334.2 398.3,338.3 401.7,343.3 400.0,347.5 393.3,345.0 385.0,343.3 376.7,343.3 368.3,341.7 366.7,336.7 365.0,331.7" fill="#7cba42"/>
<polygon points="391.7,330.0 400.0,325.8 410.0,323.3 414.2,326.7 413.3,335.0 410.0,340.0 402.5,341.7 398.3,336.7 395.0,333.3" fill="#b9dc8b"/>
<polygon points="411.7,338.3 416.7,335.8 426.7,336.7 436.7,339.2 439.2,343.3 433.3,347.5 426.7,349.2 418.3,345.8 412.5,341.7" fill="#8c1a55"/>
<polygon points="713.8,410.0 725.0,412.5 740.0,415.0 752.5,416.2 760.0,415.0 770.0,411.2 785.0,410.0 780.0,417.5 767.5,418.8 757.5,426.2 750.0,427.5 740.0,423.8 725.0,421.2 715.0,418.8" fill="#2c6535"/>
<polygon points="750.0,417.5 765.0,415.0 767.5,420.0 762.5,426.2 751.2,427.5" fill="#2c6535"/>
<polygon points="767.5,418.8 780.0,415.0 790.0,411.2 802.5,412.5 800.0,420.0 790.0,426.2 775.0,426.2 766.2,423.8" fill="#4d9140"/>
<polygon points="715.0,418.8 727.5,420.5 740.0,423.0 738.8,435.0 735.0,440.0 732.5,447.5 722.5,447.5 717.5,440.0 713.8,435.0" fill="#7cba42"/>
<polygon points="735.0,430.0 750.0,423.8 765.0,426.2 772.5,437.5 770.0,445.0 755.0,447.5 740.0,445.0 733.8,440.0" fill="#4d9140"/>
<polygon points="750.0,426.2 762.5,426.2 775.0,426.2 790.0,423.8 787.5,432.5 792.5,440.0 775.0,440.0 770.0,436.2" fill="#4d9140"/>
<polygon points="735.0,447.5 752.5,447.5 770.0,445.0 775.0,447.5 767.5,455.0 752.5,452.5 740.0,452.5" fill="#4d9140"/>
<polygon points="715.0,391.2 742.5,388.8 745.0,397.5 747.5,413.8 737.5,413.8 722.5,410.0 715.0,402.5" fill="#7cba42"/>
<polygon points="742.5,388.8 767.5,387.5 780.0,397.5 795.0,402.5 790.0,408.8 780.0,411.2 765.0,413.8 747.5,413.8 745.0,397.5" fill="#b9dc8b"/>
<polygon points="765.0,401.2 768.8,399.5 771.2,403.0 767.0,405.0" fill="#b9dc8b"/>
<polygon points="768.8,378.8 787.5,380.0 796.2,378.8 802.5,388.8 818.8,392.5 815.0,397.5 802.5,405.0 800.0,412.5 790.0,410.0 795.0,402.5 780.0,397.5 767.5,387.5" fill="#7cba42"/>
<polygon points="730.0,532.5 742.5,533.8 757.5,536.2 770.0,536.2 767.5,540.0 750.0,540.0 735.0,537.5" fill="#4d9140"/>
<polygon points="788.8,525.0 797.5,518.8 792.5,526.2" fill="#4d9140"/>
<polygon points="780.0,530.0 785.0,526.2 782.5,533.8" fill="#f8f8f8"/>
<polygon points="507.5,457.5 515.0,453.8 523.8,451.2 530.0,457.5 531.2,465.0 528.8,475.0 525.0,481.2 517.5,483.8 511.2,482.5 510.0,475.0 511.2,465.0" fill="#7cba42"/>
<polygon points="513.8,435.0 520.0,430.0 526.2,423.8 527.5,437.5 522.5,446.2 517.5,445.0 515.0,440.0" fill="#2c6535"/>
<polygon points="568.8,497.5 575.0,493.8 585.0,495.0 597.5,496.2 612.5,492.5 610.0,500.0 607.5,505.0 610.0,512.5 607.5,516.2 597.5,512.5 585.0,507.5 575.0,503.8" fill="#fcdfee"/>
<polygon points="591.2,523.8 600.0,527.5 597.5,528.8" fill="#f8f8f8"/>
<polygon points="616.2,467.0 627.5,467.5 637.5,477.5 637.5,482.5 630.0,487.5 625.0,492.5 622.5,497.5 616.2,497.5 618.8,490.0 616.5,475.0" fill="#b9dc8b"/>
<polygon points="612.5,456.2 622.5,453.8 631.2,461.2 627.5,467.5 618.8,468.8 615.0,462.5" fill="#2c6535"/>
<polygon points="607.5,443.8 615.0,440.0 623.8,442.5 622.5,447.5 635.0,455.0 650.0,462.5 657.5,466.2 652.5,471.2 642.5,465.0 631.2,461.2 622.5,453.8 612.5,455.0" fill="#fcdfee"/>
<polygon points="590.0,448.8 600.0,447.5 607.5,446.2 612.5,456.2 616.2,462.5 616.2,467.5 610.0,466.2 602.5,458.8 595.0,457.5" fill="#dc79ab"/>
<polygon points="592.5,443.8 600.0,441.2 607.5,441.2 606.2,446.2 595.0,447.5" fill="#2c6535"/>
<polygon points="557.5,433.8 566.2,431.2 575.0,433.8 580.0,438.8 587.5,443.8 590.0,448.8 580.0,450.0 572.5,446.2 565.0,440.0" fill="#8c1a55"/>
<polygon points="580.0,436.2 587.5,427.5 597.5,431.2 602.5,438.8 595.0,443.8 587.5,443.8 581.2,441.2" fill="#7cba42"/>
<polygon points="562.5,418.8 570.0,416.2 577.5,422.5 576.2,430.0 567.5,432.5 560.0,428.8" fill="#7cba42"/>
<polygon points="128.0,629.6 131.4,628.3 133.4,631.7 131.4,635.8" fill="#b9dc8b"/>
<polygon points="141.0,636.5 157.3,631.7 148.5,641.9" fill="#b9dc8b"/>
<polygon points="137.5,639.2 141.0,637.8 142.3,640.5 139.6,641.9" fill="#f8f8f8"/>
<polygon points="160.1,640.5 164.2,638.5 166.9,639.2 166.9,643.3 162.8,645.3" fill="#b9dc8b"/>
<polygon points="177.8,640.5 183.3,637.8 187.4,629.6 194.9,622.8 194.9,626.9 190.1,629.6 188.7,637.8 181.9,641.2" fill="#b9dc8b"/>
<polygon points="125.3,645.3 130.7,642.6 130.0,646.7" fill="#f8f8f8"/>
<polygon points="136.9,570.9 145.1,571.6 147.8,573.7 145.1,574.3" fill="#f8f8f8"/>
<polygon points="14.6,499.1 18.2,498.2 25.9,498.7 25.9,501.4 20.0,501.4" fill="#b9dc8b"/>
<polygon points="856.0,539.0 866.0,535.0 878.0,535.0 890.0,530.0 882.0,536.0 882.0,541.0 868.0,545.0 859.0,543.0" fill="#4d9140"/>
<polygon points="790.0,524.0 800.0,517.0 790.0,528.0" fill="#f8f8f8"/>
<polygon points="780.0,532.0 785.0,525.0 783.0,534.0" fill="#f8f8f8"/>
<polygon points="530.0,330.0 534.2,331.4 538.4,338.4 539.8,342.6 534.2,344.0 530.0,342.6" fill="#8c1a55"/>
<polygon points="541.2,370.5 548.2,368.4 557.9,367.7 566.3,367.0 571.9,370.5 569.1,374.7 560.7,374.7 552.3,374.7 545.4,376.1 541.2,373.3" fill="#4d9140"/>
<polygon points="574.7,369.1 580.3,367.7 588.7,366.3 599.8,366.3 605.4,369.1 602.6,373.3 594.2,373.3 585.9,374.0 578.9,373.3" fill="#4d9140"/>
<polygon points="584.5,376.1 592.8,374.7 602.6,376.1 608.2,379.6 606.8,383.1 601.2,385.9 592.8,387.3 585.9,385.9 584.5,383.1" fill="#7cba42"/>
<polygon points="601.2,373.3 609.6,371.9 616.6,371.9 622.2,370.5 618.0,377.5 615.2,383.1 611.0,387.3 606.8,387.3 608.2,383.1 608.2,379.6" fill="#7cba42"/>
<polygon points="590.1,385.2 594.2,384.5 599.8,385.2 599.1,387.3 594.2,387.3" fill="#7cba42"/>
<polygon points="530.0,360.7 534.9,361.4 535.6,366.3 531.4,367.0" fill="#2c6535"/>
<polygon points="484.9,376.2 506.1,377.4 511.1,376.2 522.3,376.2 537.2,373.7 542.2,376.2 547.2,374.3 560.8,374.9 572.0,374.3 575.8,382.4 577.0,386.1 567.1,396.1 568.3,402.3 567.1,409.8 532.2,407.3 497.4,409.8 491.2,402.3 487.4,397.3 482.4,396.1 487.4,393.6 491.2,389.9 488.7,386.1 490.5,382.4" fill="#8c1a55"/>
<polygon points="488.7,384.9 489.9,382.4 498.6,382.4 506.1,377.4 511.1,376.2 513.6,379.9 516.0,383.6 513.6,388.6 512.9,392.4 518.5,397.3 522.3,401.1 517.3,402.3 509.8,403.6 502.4,407.3 497.4,407.9 491.2,402.3 488.7,397.3 487.4,393.6 491.2,389.9 488.7,386.1" fill="#8c1a55"/>
<polygon points="489.3,384.9 494.9,383.0 502.4,383.6 503.6,386.8 497.4,387.4 491.2,387.4" fill="#2c6535"/>
<polygon points="497.4,409.8 506.1,403.6 513.6,402.3 522.3,402.3 528.5,404.8 532.2,407.3 526.0,407.3 518.5,404.2 509.8,406.0 501.1,411.0" fill="#b9dc8b"/>
<polygon points="514.8,383.6 518.5,378.7 522.3,376.2 526.0,374.9 529.7,377.4 534.7,377.4 537.2,373.7 539.7,376.2 542.2,386.1 544.7,388.6 550.9,392.4 547.2,394.8 534.7,393.6 526.0,394.2 519.8,394.8 513.6,391.1" fill="#8c1a55"/>
<polygon points="523.5,396.1 527.2,393.6 538.4,394.2 550.9,394.8 559.6,395.5 567.1,396.1 568.3,402.3 567.1,409.8 564.6,412.3 557.1,409.8 549.6,407.3 539.7,406.0 531.0,403.6" fill="#8c1a55"/>
<polygon points="542.2,376.2 547.2,374.3 554.6,372.4 560.8,374.9 562.1,378.7 557.1,379.9 552.1,381.8 547.2,384.9 543.4,383.6" fill="#4d9140"/>
<polygon points="544.7,387.4 549.6,383.6 557.1,379.9 564.6,374.9 572.0,374.3 575.8,382.4 577.0,386.1 569.6,388.6 567.1,392.4 564.6,395.5 557.1,395.5 550.9,393.6" fill="#8c1a55"/>
<polygon points="567.1,373.7 575.8,372.4 583.2,374.9 583.2,383.6 578.3,384.9 575.8,382.4" fill="#b9dc8b"/>
<polygon points="532.2,407.3 542.2,406.0 550.9,407.3 557.1,409.8 564.6,413.5 562.1,418.5 557.1,429.7 554.6,432.2 549.6,429.7 542.2,424.7 539.7,417.2 536.0,412.3" fill="#dc79ab"/>
<polygon points="562.1,417.2 567.1,416.0 573.3,419.7 575.8,426.0 570.8,430.9 564.6,429.7 560.8,424.7" fill="#7cba42"/>
<polygon points="568.3,409.8 573.3,411.0 580.8,416.0 583.2,427.2 577.0,426.0 572.0,418.5" fill="#b9dc8b"/>
<polygon points="557.1,432.2 563.3,429.7 570.8,430.9 578.3,434.7 583.2,440.9 582.0,444.6 559.6,444.6" fill="#8c1a55"/>
<polygon points="514.8,434.7 519.8,430.9 524.8,427.2 526.0,423.5 527.2,434.7 524.8,444.6 516.0,444.6" fill="#2c6535"/>
<polygon points="652.4,321.2 657.3,316.2 658.6,310.0 664.8,308.7 674.8,313.7 673.5,317.4 667.3,321.2 664.8,327.4 667.3,329.9 662.3,331.1 657.3,324.9" fill="#dc79ab"/>
<polygon points="667.3,321.2 674.8,317.4 684.7,317.4 694.7,321.2 697.2,328.6 692.2,332.4 679.7,333.6 674.8,331.1 669.8,328.6" fill="#f8f8f8"/>
<polygon points="705.9,300.0 732.0,300.0 732.0,312.4 719.6,319.9 717.1,318.7 704.6,313.7 705.9,307.5" fill="#b9dc8b"/>
<polygon points="697.2,318.7 707.1,314.9 717.1,318.7 727.0,317.4 719.6,324.9 717.1,331.1 714.6,336.1 707.1,333.6 697.2,329.9" fill="#b9dc8b"/>
<polygon points="632.4,321.2 639.9,322.4 644.9,319.9 651.1,322.4 657.3,327.4 654.8,331.1 648.6,332.4 642.4,331.1 636.2,336.1 633.7,329.9" fill="#7cba42"/>
<polygon points="620.0,328.6 631.2,328.6 636.2,336.1 642.4,332.4 648.6,332.4 654.8,332.4 659.8,337.3 658.6,342.3 661.1,348.5 661.1,352.3 654.8,353.5 644.9,354.8 637.4,352.3 633.7,346.0 630.0,341.1 620.0,341.1" fill="#b9dc8b"/>
<polygon points="656.1,332.4 662.3,331.1 669.8,329.9 674.8,332.4 678.5,337.3 682.2,341.1 683.5,346.0 674.8,351.0 667.3,352.3 663.6,348.5 659.8,342.3 659.8,337.3" fill="#7cba42"/>
<polygon points="678.5,333.6 689.7,333.6 702.1,333.6 712.1,334.8 713.3,338.6 709.6,344.8 699.6,344.8 693.4,346.0 684.7,346.0 682.2,341.1" fill="#7cba42"/>
<polygon points="664.8,352.3 672.3,349.8 682.2,347.3 689.7,346.0 697.2,346.0 702.1,348.5 695.9,352.3 689.7,356.0 682.2,359.7 676.0,358.5 669.8,354.8" fill="#4d9140"/>
<polygon points="677.2,359.7 684.7,357.2 692.2,354.8 702.1,349.8 712.1,347.3 718.3,352.3 714.6,356.0 707.1,362.2 699.6,366.0 692.2,367.2 682.2,368.4 679.7,363.5" fill="#4d9140"/>
<polygon points="661.1,357.2 664.8,354.8 672.3,356.0 677.2,361.0 678.5,366.0 672.3,366.0 666.0,364.7 662.3,362.2" fill="#e4f2d2"/>
<polygon points="639.9,356.0 647.4,354.8 659.8,357.2 662.3,364.7 656.1,368.4 648.6,367.2 641.2,364.7" fill="#4d9140"/>
<polygon points="625.0,362.2 630.0,358.5 637.4,354.8 639.9,357.2 641.2,366.0 637.4,372.2 634.9,374.7 627.5,373.4" fill="#4d9140"/>
<polygon points="637.4,372.2 648.6,369.7 657.3,369.7 662.3,373.4 661.1,384.6 634.9,384.6" fill="#4d9140"/>
<polygon points="663.6,367.2 672.3,366.0 682.2,368.4 692.2,367.2 699.6,369.7 694.7,377.2 684.7,379.6 672.3,384.6 663.6,379.6" fill="#4d9140"/>
<polygon points="702.1,369.7 707.1,362.2 718.3,352.3 733.2,352.3 733.2,374.7 714.6,375.9 707.1,374.7" fill="#7cba42"/>
<polygon points="627.5,353.5 634.9,351.6 636.2,354.8 630.0,356.6" fill="#2c6535"/>
<polygon points="700.0,365.0 710.0,358.8 717.5,352.5 730.0,352.5 745.0,355.0 750.0,362.5 747.5,370.0 735.0,372.5 720.0,375.0 705.0,375.0" fill="#7cba42"/>
<polygon points="704.9,456.2 712.3,451.8 721.0,450.0 729.8,448.7 736.0,450.0 737.2,456.2 733.5,459.9 734.7,463.6 729.8,467.4 724.8,464.9 721.0,458.7 716.1,461.2 712.3,464.9 707.4,463.6" fill="#fcdfee"/>
<polygon points="692.4,462.4 697.4,456.8 704.9,456.2 708.6,463.6 704.9,468.6 697.4,468.6 692.4,466.1" fill="#2c6535"/>
<polygon points="683.7,471.1 689.9,466.1 693.7,464.9 696.2,471.1 697.4,477.3 693.7,481.1 687.4,479.8 683.7,476.1" fill="#2c6535"/>
<polygon points="696.2,472.4 704.9,469.2 711.1,466.1 716.1,471.1 721.0,477.3 718.6,479.8 711.1,479.8 702.4,478.6 697.4,477.3" fill="#7cba42"/>
<polygon points="692.4,483.6 699.9,480.4 704.9,482.3 707.4,489.8 703.6,491.0 697.4,489.8 693.7,487.3" fill="#4d9140"/>
<polygon points="703.6,481.1 712.3,479.8 719.8,482.3 727.3,487.3 736.0,491.0 738.5,492.3 733.5,493.5 724.8,492.3 714.8,491.0 708.6,489.8" fill="#4d9140"/>
<polygon points="722.3,481.1 727.3,483.6 732.2,487.3 738.5,489.8 736.0,491.0 729.8,489.8 724.8,486.0" fill="#4d9140"/>
<polygon points="724.8,494.8 731.0,493.5 734.7,493.5 736.6,501.0 733.5,498.5 729.8,496.0" fill="#8c1a55"/>
<polygon points="696.2,498.5 703.6,494.8 712.3,494.8 718.6,497.2 724.8,501.0 729.8,504.7 724.8,507.2 721.0,512.2 722.3,519.6 716.1,517.2 711.1,514.7 707.4,509.7 702.4,506.0 697.4,502.2" fill="#4d9140"/>
<polygon points="752.2,468.6 757.1,467.4 755.9,471.1" fill="#2c6535"/>
<polygon points="763.4,479.8 769.6,477.3 774.6,482.3 768.3,482.3" fill="#2c6535"/>
<polygon points="763.4,489.8 767.1,488.5 765.8,493.5" fill="#f8f8f8"/>
<polygon points="773.3,501.0 782.0,500.4 778.3,502.2" fill="#f8f8f8"/>
<polygon points="755.9,509.7 759.6,508.4 758.4,512.2" fill="#f8f8f8"/>
<polygon points="742.2,494.8 745.9,493.5 747.2,497.2" fill="#f8f8f8"/>
<polygon points="685.0,492.3 687.4,493.5 686.2,494.8" fill="#4d9140"/>
<polygon points="688.7,498.5 692.4,499.7 689.9,501.6" fill="#f8f8f8"/>
<polygon points="595.0,267.4 608.7,263.6 622.4,260.5 631.1,258.7 633.6,263.6 634.8,269.9 627.3,273.6 626.1,278.6 614.9,281.1 604.9,282.3 597.5,282.3 596.2,274.8" fill="#7cba42"/>
<polygon points="632.3,258.0 643.5,255.6 656.0,254.3 659.7,258.7 668.4,262.4 667.2,269.9 658.4,269.9 647.2,269.9 639.8,272.4 634.8,269.9 633.6,263.6" fill="#7cba42"/>
<polygon points="667.2,262.4 677.1,259.9 703.2,259.9 703.2,274.8 687.1,277.3 674.6,278.6 670.9,276.1 667.2,269.9" fill="#b9dc8b"/>
<polygon points="639.8,272.4 647.2,269.9 658.4,269.9 667.2,271.1 673.4,277.3 670.9,283.6 667.2,287.3 657.2,286.0 644.8,283.6 641.0,278.6" fill="#4d9140"/>
<polygon points="672.1,278.6 688.3,276.1 703.2,274.8 703.2,307.2 692.0,304.7 687.1,299.7 679.6,292.3 670.9,287.3" fill="#8c1a55"/>
<polygon points="601.2,284.8 611.2,281.7 618.6,281.1 619.9,287.3 618.6,294.8 621.1,298.5 614.9,301.0 607.4,302.2 601.2,296.0 600.0,289.8" fill="#4d9140"/>
<polygon points="619.9,281.1 627.3,277.3 631.1,272.4 639.8,272.4 641.0,278.6 644.8,283.6 657.2,286.0 664.7,288.5 659.7,293.5 653.5,299.7 649.7,306.0 642.3,303.5 631.1,299.7 621.1,297.2 618.6,289.8" fill="#f8f8f8"/>
<polygon points="654.7,296.0 664.7,289.8 677.1,289.8 684.6,294.8 687.1,299.7 684.6,304.7 674.6,307.2 667.2,304.7 654.7,303.5" fill="#e4f2d2"/>
<polygon points="607.4,302.2 621.1,298.5 631.1,299.7 642.3,303.5 644.8,309.7 639.8,314.7 631.1,319.6 618.6,318.4 608.7,315.9 606.2,309.7" fill="#fcdfee"/>
<polygon points="636.0,310.9 644.8,307.2 652.2,307.2 657.2,309.7 654.7,317.2 647.2,320.9 637.3,319.6" fill="#f8f8f8"/>
<polygon points="654.7,313.4 659.7,309.7 672.1,309.7 675.9,313.4 672.1,319.6 659.7,324.6 653.5,324.6" fill="#dc79ab"/>
<polygon points="677.1,310.9 688.3,307.2 698.3,307.2 703.2,309.7 703.2,317.2 689.6,319.6 679.6,317.2" fill="#4d9140"/>
<polygon points="667.5,262.5 717.5,261.2 702.5,275.0 677.5,277.5 670.0,275.0" fill="#b9dc8b"/>
<polygon points="702.5,275.0 717.5,265.0 722.5,261.2 730.0,270.0 735.0,282.5 725.0,288.8 715.0,286.2" fill="#4d9140"/>
<polygon points="670.0,285.0 677.5,278.8 702.5,275.0 715.0,285.0 721.2,292.5 705.0,296.2 702.5,302.5 697.5,307.5 687.5,305.0 682.5,297.5 672.5,291.2" fill="#8c1a55"/>
<polygon points="705.0,296.2 721.2,292.5 727.5,295.0 737.5,310.0 735.0,317.5 720.0,320.0 710.0,316.2 702.5,307.5" fill="#b9dc8b"/>
<polygon points="695.0,315.0 710.0,316.2 720.0,320.0 732.5,320.0 715.0,336.2 697.5,335.0 695.0,325.0" fill="#b9dc8b"/>
<polygon points="677.5,307.5 690.0,305.0 697.5,307.5 703.8,310.0 700.0,316.2 690.0,320.0 680.0,317.5" fill="#4d9140"/>
<polygon points="373.7,377.4 378.6,367.5 391.1,365.6 398.6,367.5 404.8,374.9 399.8,384.9 392.3,389.9 387.4,393.6 379.9,389.9 374.9,387.4" fill="#b9dc8b"/>
<polygon points="399.8,378.7 407.3,376.2 422.2,376.2 425.9,379.9 424.7,388.6 417.2,396.1 412.2,393.6 407.3,387.4 401.0,384.9" fill="#4d9140"/>
<polygon points="423.4,373.7 434.6,371.2 443.4,372.4 445.8,377.4 443.4,384.9 449.6,389.9 453.3,393.6 442.1,397.3 429.7,397.3 422.2,399.8 419.7,396.1 425.9,389.9 425.9,379.9" fill="#7cba42"/>
<polygon points="368.7,421.0 372.4,407.3 373.7,389.9 379.9,389.9 387.4,393.6 392.3,389.9 399.8,384.9 407.3,387.4 409.8,397.3 402.3,403.6 399.8,409.8 387.4,411.0 386.1,416.0 389.8,419.7 387.4,426.0 379.9,427.2 373.7,423.5" fill="#fcdfee"/>
<polygon points="386.1,412.3 399.8,409.8 402.3,403.6 409.8,397.3 417.2,396.1 422.2,399.8 432.2,398.6 437.1,406.0 435.9,412.3 427.2,417.2 414.7,421.0 419.7,429.7 413.5,433.4 402.3,429.7 391.1,427.2 387.4,424.7 389.8,419.7 386.1,416.0" fill="#f8f8f8"/>
<polygon points="413.5,421.0 427.2,417.2 435.9,412.3 437.1,406.0 442.1,397.3 447.1,396.1 449.6,402.3 458.3,406.0 457.0,412.3 445.8,416.0 434.6,422.2 432.2,429.7 423.4,432.2 413.5,433.4 419.7,429.7" fill="#f8f8f8"/>
<polygon points="444.6,378.7 454.6,377.4 460.8,376.2 484.9,376.2 490.5,382.4 488.6,386.1 491.1,389.9 487.4,393.6 482.4,396.1 472.6,407.3 459.5,408.5 458.3,406.0 449.6,402.3 447.1,396.1 453.3,393.6 449.6,389.9 443.4,384.9 445.8,377.4" fill="#8c1a55"/>
<polygon points="453.3,416.0 459.5,408.5 472.6,407.3 482.4,396.1 487.4,397.3 491.1,402.3 497.4,408.5 494.9,411.0 487.4,414.8 479.9,418.5 470.0,422.2 459.5,418.5" fill="#c51c7d"/>
<polygon points="566.1,301.2 579.8,299.9 581.0,304.3 579.8,308.6 567.3,308.6" fill="#7cba42"/>
<polygon points="579.8,302.4 589.7,302.4 599.7,303.7 604.7,303.0 605.9,307.4 598.4,309.9 588.5,312.4 582.3,311.1 578.5,307.4" fill="#e4f2d2"/>
<polygon points="563.6,316.1 573.6,309.9 582.3,311.1 588.5,313.6 596.0,311.1 597.2,313.6 587.2,317.4 579.8,321.1 568.6,322.3 564.8,319.8" fill="#b9dc8b"/>
<polygon points="567.3,322.3 579.8,321.1 587.2,317.4 597.2,313.6 608.4,309.9 612.1,314.9 612.1,319.8 610.9,326.1 604.7,328.6 599.7,329.8 588.5,329.8 579.8,327.3 571.1,326.1" fill="#7cba42"/>
<polygon points="594.1,321.1 598.4,319.8 602.8,322.3 598.4,324.8" fill="#b9dc8b"/>
<polygon points="599.7,312.4 608.4,309.9 617.1,313.6 624.6,316.1 629.6,322.3 630.8,327.3 624.6,328.6 617.1,326.1 612.1,324.8 612.1,317.4" fill="#7cba42"/>
<polygon points="554.9,324.8 567.3,323.6 571.1,326.1 577.3,333.5 574.8,338.5 568.6,339.8 561.1,337.3 556.1,334.8" fill="#7cba42"/>
<polygon points="571.1,326.1 579.8,327.3 588.5,329.8 599.7,329.8 604.7,328.6 605.9,334.8 603.4,338.5 594.7,342.2 587.2,342.2 579.8,338.5 576.0,334.8" fill="#7cba42"/>
<polygon points="604.7,328.6 610.9,326.1 617.1,326.1 624.6,328.6 630.8,328.6 637.0,332.3 638.3,339.8 629.6,339.8 619.6,338.5 608.4,337.3 605.9,334.8" fill="#b9dc8b"/>
<polygon points="544.9,321.1 552.4,318.6 563.6,317.4 567.3,322.3 554.9,324.8 556.1,334.8 549.9,332.3 546.2,327.3" fill="#7cba42"/>
<polygon points="533.7,332.3 542.4,329.8 552.4,331.0 556.1,334.8 552.4,338.5 542.4,337.3 537.5,338.5" fill="#e4f2d2"/>
<polygon points="530.0,316.1 537.5,314.9 544.9,321.1 546.2,327.3 542.4,329.8 533.7,331.0 530.0,328.6" fill="#b9dc8b"/>
<polygon points="535.0,339.8 542.4,337.3 549.9,339.8 548.7,349.7 547.4,359.7 540.0,359.7 536.2,349.7" fill="#e4f2d2"/>
<polygon points="548.7,339.8 553.6,338.5 558.6,344.7 564.8,347.2 573.6,352.2 576.0,357.2 567.3,359.7 554.9,359.7 546.2,357.2 547.4,349.7" fill="#8c1a55"/>
<polygon points="559.9,338.5 568.6,339.8 574.8,338.5 579.8,338.5 587.2,342.2 584.8,347.2 579.8,351.0 573.6,352.2 564.8,347.2 558.6,343.5" fill="#b9dc8b"/>
<polygon points="577.3,349.7 584.8,347.2 592.2,344.7 600.9,346.0 604.7,352.2 599.7,355.9 589.7,357.2 582.3,355.9 577.3,354.7" fill="#b9dc8b"/>
<polygon points="604.7,339.8 617.1,338.5 629.6,339.8 635.8,343.5 633.3,349.7 627.1,352.2 617.1,354.7 609.6,352.2 604.7,347.2" fill="#e4f2d2"/>
<polygon points="624.6,347.8 628.3,347.2 629.6,350.3 625.8,351.0" fill="#f8f8f8"/>
<polygon points="538.4,362.8 548.2,360.7 557.9,359.3 566.3,358.6 571.9,359.3 576.1,361.4 570.5,363.5 563.5,364.9 555.1,364.9 546.8,366.3 539.8,367.7" fill="#4d9140"/>
<polygon points="566.3,366.3 571.9,364.9 578.9,355.1 585.9,357.9 590.1,364.9 585.9,367.0 580.3,367.7 573.3,369.1" fill="#4d9140"/>
<polygon points="587.3,357.9 597.0,356.5 608.2,355.1 619.4,357.9 623.6,363.5 622.2,369.1 616.6,371.9 608.2,371.9 605.4,369.1 599.8,366.3 591.5,364.9" fill="#7cba42"/>
<polygon points="541.2,370.5 548.2,368.4 557.9,367.7 566.3,367.0 571.9,370.5 569.1,374.7 560.7,374.7 552.3,374.7 545.4,376.1 541.2,373.3" fill="#4d9140"/>
<polygon points="574.7,369.1 580.3,367.7 588.7,366.3 599.8,366.3 605.4,369.1 602.6,373.3 594.2,373.3 585.9,374.0 578.9,373.3" fill="#4d9140"/>
<polygon points="622.2,362.1 627.8,357.9 636.1,353.7 645.9,357.9 655.0,356.5 655.0,384.5 645.9,383.1 638.9,380.3 630.6,374.7 626.4,370.5" fill="#4d9140"/>
<polygon points="622.2,362.1 626.4,360.0 627.8,363.5 625.0,365.6" fill="#2c6535"/>
<polygon points="626.4,355.1 634.7,352.3 636.1,354.4 629.2,357.2" fill="#2c6535"/>
<polygon points="569.1,374.7 576.1,372.6 585.9,374.0 585.9,378.9 584.5,383.1 576.1,383.8 570.5,380.3" fill="#b9dc8b"/>
</g>
<rect x="59.5" y="84.0" width="24.5" height="17.8" fill="#2c6535" stroke="#fff" stroke-width="1"/>
<rect x="59.5" y="104.3" width="24.5" height="17.8" fill="#4d9140" stroke="#fff" stroke-width="1"/>
<rect x="59.5" y="124.6" width="24.5" height="17.8" fill="#7cba42" stroke="#fff" stroke-width="1"/>
<rect x="59.5" y="144.9" width="24.5" height="17.8" fill="#b9dc8b" stroke="#fff" stroke-width="1"/>
<rect x="59.5" y="165.2" width="24.5" height="17.8" fill="#e4f2d2" stroke="#fff" stroke-width="1"/>
<rect x="59.5" y="185.5" width="24.5" height="17.8" fill="#f8f8f8" stroke="#fff" stroke-width="1"/>
<rect x="59.5" y="205.8" width="24.5" height="17.8" fill="#fcdfee" stroke="#fff" stroke-width="1"/>
<rect x="59.5" y="226.1" width="24.5" height="17.8" fill="#eeb6d6" stroke="#fff" stroke-width="1"/>
<rect x="59.5" y="246.4" width="24.5" height="17.8" fill="#dc79ab" stroke="#fff" stroke-width="1"/>
<rect x="59.5" y="266.7" width="24.5" height="17.8" fill="#c51c7d" stroke="#fff" stroke-width="1"/>
<rect x="59.5" y="287.0" width="24.5" height="17.8" fill="#8c1a55" stroke="#fff" stroke-width="1"/>
</svg>
<div class="t" style="top:28px">(a) Total household carbon footprint</div>
<div class="t" style="top:54px">(MtCO<span style="font-size:13px;position:relative;top:2px">2</span>e)</div>
<div class="lt" style="left:98px;top:82.0px">&lt; 5</div>
<div class="lt" style="left:102px;top:102.3px">5 - 10</div>
<div class="lt" style="left:94px;top:122.7px">10 - 15</div>
<div class="lt" style="left:94px;top:143.0px">15 - 20</div>
<div class="lt" style="left:94px;top:163.4px">20 - 25</div>
<div class="lt" style="left:94px;top:183.7px">25 - 30</div>
<div class="lt" style="left:94px;top:204.0px">30 - 35</div>
<div class="lt" style="left:94px;top:224.4px">35 - 40</div>
<div class="lt" style="left:94px;top:244.7px">40 - 45</div>
<div class="lt" style="left:94px;top:265.1px">45 - 50</div>
<div class="lt" style="left:98px;top:285.4px">&gt; 50</div>
</body></html>
